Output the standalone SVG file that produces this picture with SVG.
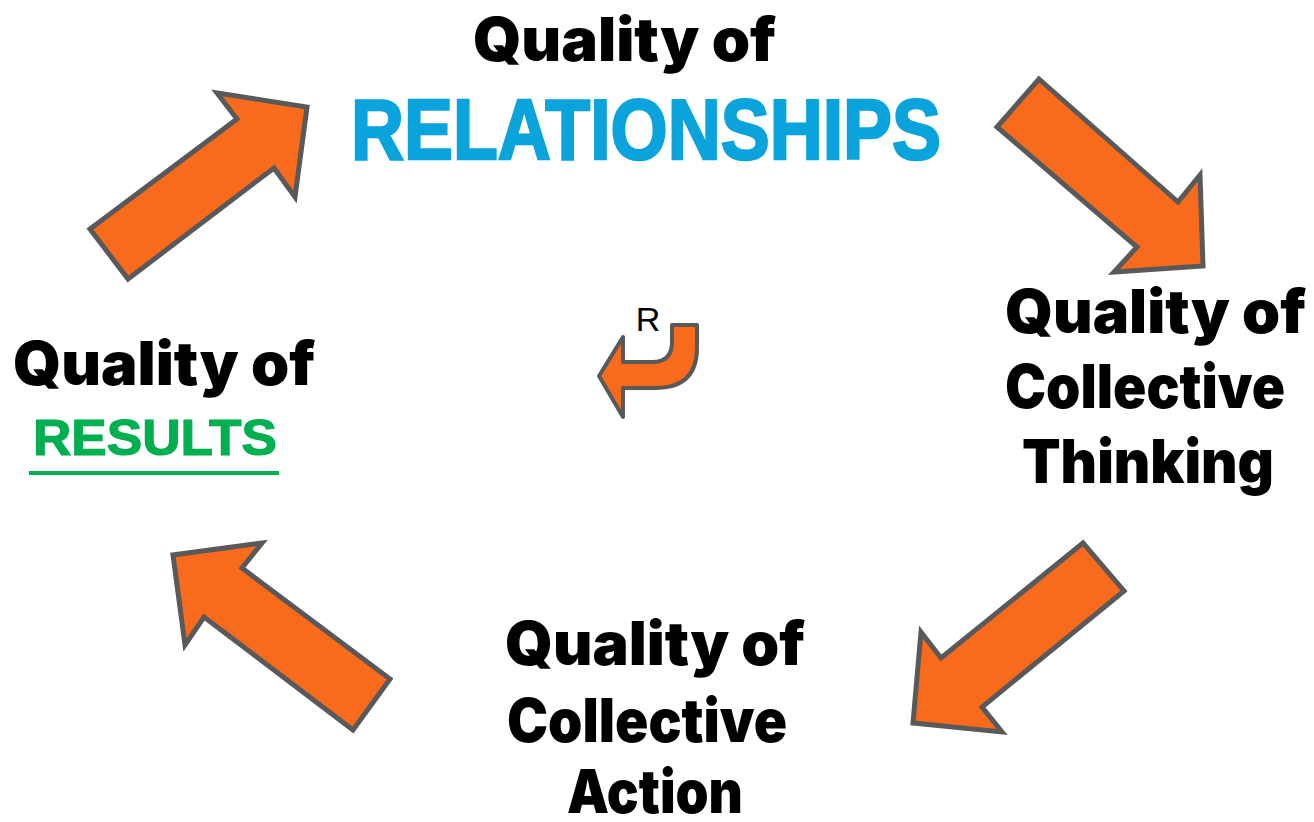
<svg xmlns="http://www.w3.org/2000/svg" width="1314" height="822" viewBox="0 0 1314 822">
  <style>
    .arrow { fill: #F86B1D; stroke: #595959; stroke-width: 5; stroke-linejoin: miter; }
    .loop { fill: #F86B1D; stroke: #595959; stroke-width: 4; stroke-linejoin: round; }
    .label { font-family: "Inter", "DejaVu Sans", sans-serif; font-weight: 900; font-size: 60px; fill: #000; }
    .big { font-family: "Liberation Sans", "DejaVu Sans", sans-serif; font-weight: bold; font-size: 85px; fill: #0BA3DB; stroke: #0BA3DB; stroke-width: 2.5; }
    .green { font-family: "Liberation Sans", "DejaVu Sans", sans-serif; font-weight: bold; font-size: 50px; fill: #00B050; stroke: #00B050; stroke-width: 1.2; }
  </style>
  <rect width="1314" height="822" fill="#ffffff"/>

  <!-- cycle arrows -->
  <g id="connectors">
    <polygon class="arrow" points="90,229 237,119 217,93 307,107 295,197 274,168 128,279"/>
    <polygon class="arrow" points="1039,79 1178,202 1200,175 1203,266 1114,272 1137,247 997,127"/>
    <polygon class="arrow" points="1124,591 982,707 1002,732 913,723 921,632 941,658 1083,543"/>
    <polygon class="arrow" points="353,730 204,617 185,645 173,555 262,543 242,568 390,679"/>
  </g>

  <!-- reinforcing loop marker -->
  <g id="loop-marker">
    <path class="loop" d="M623,337 L623,362 L652,362 Q672,362 672,342 L672,325 L697,325 L697,348 Q697,388 655,388 L623,388 L623,417 L599,376 Z"/>
    <text x="648" y="331" text-anchor="middle" font-family="Liberation Sans, Arial, sans-serif" font-size="34" fill="#000">R</text>
  </g>

  <g id="node-relationships">
    <text class="label" x="473" y="61" textLength="303" lengthAdjust="spacingAndGlyphs">Quality of</text>
    <text class="big" x="351" y="159" textLength="590" lengthAdjust="spacingAndGlyphs">RELATIONSHIPS</text>
  </g>

  <g id="node-thinking">
    <text class="label" x="1005" y="333" textLength="301" lengthAdjust="spacingAndGlyphs">Quality of</text>
    <text class="label" x="1005" y="408" textLength="280" lengthAdjust="spacingAndGlyphs">Collective</text>
    <text class="label" x="1022" y="483" textLength="252" lengthAdjust="spacingAndGlyphs">Thinking</text>
  </g>

  <g id="node-action">
    <text class="label" x="505" y="665" textLength="300" lengthAdjust="spacingAndGlyphs">Quality of</text>
    <text class="label" x="507" y="742" textLength="280" lengthAdjust="spacingAndGlyphs">Collective</text>
    <text class="label" x="567" y="813" textLength="176" lengthAdjust="spacingAndGlyphs">Action</text>
  </g>

  <g id="node-results">
    <text class="label" x="13" y="385" textLength="302" lengthAdjust="spacingAndGlyphs">Quality of</text>
    <text class="green" x="33" y="455" textLength="244" lengthAdjust="spacingAndGlyphs">RESULTS</text>
    <rect x="29" y="471" width="250" height="4" fill="#00B050"/>
  </g>
</svg>
